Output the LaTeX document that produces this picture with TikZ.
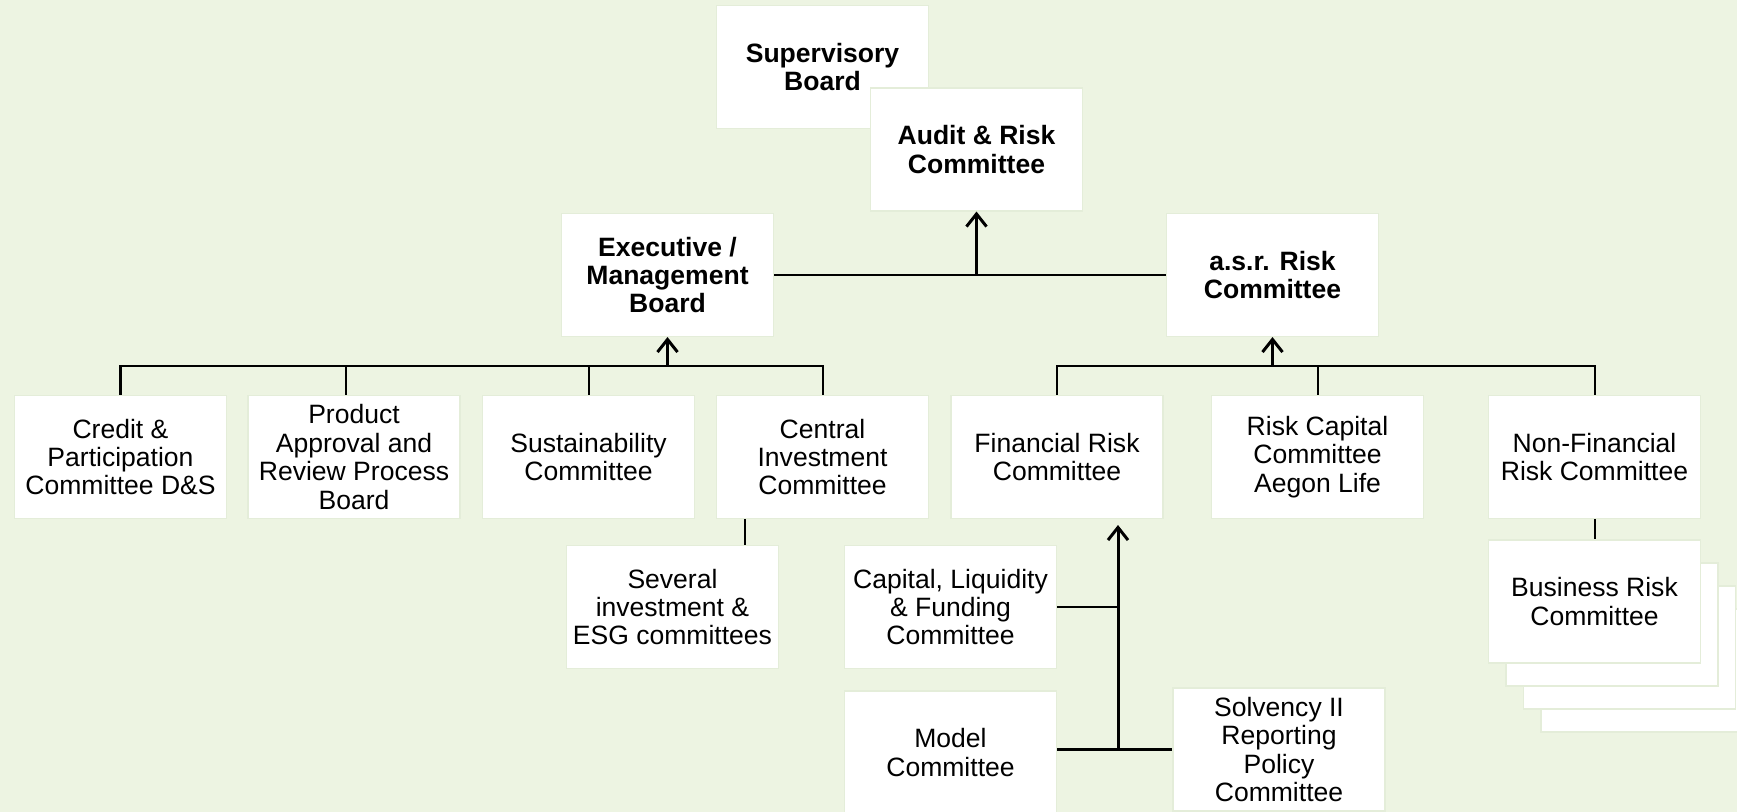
\documentclass[tikz,border=0pt]{standalone}
\usepackage{fontspec}
\setmainfont{Liberation Sans}
\usepackage{xcolor}
\usetikzlibrary{arrows.meta}
\definecolor{bggreen}{RGB}{237,244,226}
\definecolor{boxedge}{RGB}{228,237,217}

\begin{document}
\begin{tikzpicture}[
  box/.style={rectangle, draw=boxedge, line width=0.3pt, fill=white,
    minimum width=2.12cm, minimum height=1.23cm, inner sep=0pt,
    align=center, font=\fontsize{7.55}{8.1}\selectfont},
  bbox/.style={box, font=\fontsize{7.55}{8.1}\selectfont\bfseries},
  link/.style={line width=0.57pt},
  arr/.style={-{Straight Barb[length=3.6pt,width=5.7pt]}, line width=0.85pt}
]
\fill[bggreen] (0,0) rectangle (17.37,-8.12);
\useasboundingbox (0,0) rectangle (17.37,-8.12);
% Top: boards
\node[bbox] (sup) at (8.225,-0.67) {Supervisory\\Board};
\node[bbox] (audit) at (9.765,-1.495) {Audit \& Risk\\Committee};
\node[bbox] (exec) at (6.675,-2.75) {Executive /\\Management\\Board};
\node[bbox] (asr) at (12.725,-2.75) {a.s.r. Risk\\Committee};
% Committees
\node[box] (credit) at (1.205,-4.57) {Credit \&\\Participation\\Committee D\&S};
\node[box] (product) at (3.54,-4.57) {Product\\Approval and\\Review Process\\Board};
\node[box] (sust) at (5.885,-4.57) {Sustainability\\Committee};
\node[box] (central) at (8.225,-4.57) {Central\\Investment\\Committee};
\node[box] (fin) at (10.57,-4.57) {Financial Risk\\Committee};
\node[box] (riskcap) at (13.175,-4.57) {Risk Capital\\Committee\\Aegon Life};
\node[box] (nonfin) at (15.945,-4.57) {Non-Financial\\Risk Committee};
% Lower committees
\node[box] (several) at (6.725,-6.07) {Several\\investment \&\\ESG committees};
\node[box] (capital) at (9.505,-6.07) {Capital, Liquidity\\\& Funding\\Committee};
\node[box] (model) at (9.505,-7.525) {Model\\Committee};
\node[box] (solv) at (12.79,-7.495) {Solvency II\\Reporting\\Policy\\Committee};
% Business risk stack
\foreach \i in {3,2,1}
  \node[box] at ({15.945+0.175*\i},{-6.015-0.23*\i}) {};
\node[box] (business) at (15.945,-6.015) {Business Risk\\Committee};
% Reporting lines
\coordinate (bus) at (0,-3.66);
\coordinate (spine) at (11.18,-7.495);
\draw[link, line width=0.75pt] (exec.east) -- (asr.west);
\draw[arr] (exec.east -| audit.south) -- (audit.south);
\draw[link] (credit.north) |- (central.north |- bus) -- (central.north);
\draw[link] ([xshift=-0.08cm]product.north) -- ([xshift=-0.08cm]product.north |- bus);
\draw[link] (sust.north) -- (sust.north |- bus);
\draw[arr] (exec.south |- bus) -- (exec.south);
\draw[link] (fin.north) |- (nonfin.north |- bus) -- (nonfin.north);
\draw[link] (riskcap.north) -- (riskcap.north |- bus);
\draw[arr] (asr.south |- bus) -- (asr.south);
\draw[link] ([xshift=-0.775cm]central.south) -- ([xshift=-0.775cm]central.south |- several.north);
\draw[link] (nonfin.south) -- (business.north);
\draw[link] (capital.east) -- (capital.east -| spine);
\draw[link, line width=0.85pt] (model.east |- solv.west) -- (solv.west);
\draw[arr] (spine) -- ([yshift=-0.06cm]fin.south -| spine);
\end{tikzpicture}
\end{document}
